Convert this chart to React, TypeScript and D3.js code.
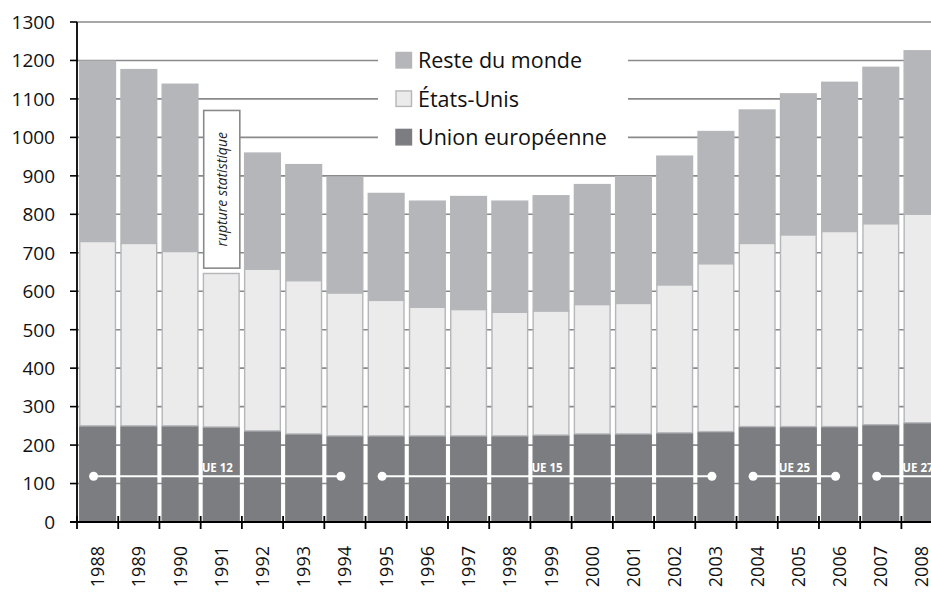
import React, { useRef, useEffect } from "react";
import * as d3 from "d3";

const years = [
  "1988", "1989", "1990", "1991", "1992", "1993", "1994", "1995", "1996", "1997", "1998",
  "1999", "2000", "2001", "2002", "2003", "2004", "2005", "2006", "2007", "2008",
];
const unionEuropeenne = [
  250, 250, 250, 247, 237, 229, 224, 224, 224, 224, 224, 226, 229, 229, 232, 235, 248, 248, 248, 253, 258,
];
const etatsUnis = [
  481, 476, 455, 401, 422, 400, 373, 354, 336, 330, 323, 324, 338, 341, 386, 438, 478, 500, 509, 524, 544,
];
const resteDuMonde = [
  469, 452, 435, 0, 302, 302, 301, 278, 276, 294, 289, 300, 312, 330, 335, 344, 347, 367, 388, 407, 425,
];
const yTicks = [0, 100, 200, 300, 400, 500, 600, 700, 800, 900, 1000, 1100, 1200, 1300];

// EU enlargement periods (start year, end year, label)
const periodLabels = ["UE 12", "UE 15", "UE 25", "UE 27"];
const periodStart = [1988, 1995, 2004, 2007];
const periodEnd = [1994, 2003, 2006, 2009];
const periodLevel = 119;

const seriesNames = ["Union européenne", "États-Unis", "Reste du monde"];
const seriesFill = ["#7c7d81", "#ebebeb", "#b5b6ba"];
const seriesStroke = ["#7c7d81", "#b5b6ba", "#b5b6ba"];

const W = 931;
const H = 592;
const FONT = "'Open Sans', 'Liberation Sans', sans-serif";

export default function App() {
  const svgRef = useRef<SVGSVGElement>(null);

  useEffect(() => {
    if (!svgRef.current) return;
    const svg = d3.select(svgRef.current);
    svg.selectAll("*").remove();

    const left = 77;
    const step = 41.22;
    const x = d3
      .scaleBand<string>()
      .domain(years)
      .range([left, left + step * years.length])
      .paddingInner(0.1)
      .paddingOuter(0.05);
    const y = d3.scaleLinear().domain([0, 1300]).range([522, 22]);

    // position of a year's band centre, also for years past the domain
    const centerOf = (yr: number) =>
      left + (yr - +years[0] + 0.5) * step;

    // gridlines
    svg
      .append("g")
      .selectAll("line")
      .data(yTicks.slice(1))
      .join("line")
      .attr("x1", left)
      .attr("x2", W)
      .attr("y1", (d) => y(d))
      .attr("y2", (d) => y(d))
      .attr("stroke", "#8a8a8c")
      .attr("stroke-width", 1.6);

    // stacked bars
    const rows = years.map((yr, i) => ({
      year: yr,
      ue: unionEuropeenne[i],
      us: etatsUnis[i],
      rdm: resteDuMonde[i],
    }));
    const stack = d3.stack<any>().keys(["ue", "us", "rdm"]);
    const layers = stack(rows);

    svg
      .append("g")
      .selectAll("g")
      .data(layers)
      .join("g")
      .attr("fill", (_, i) => seriesFill[i])
      .attr("stroke", (_, i) => seriesStroke[i])
      .attr("stroke-width", 1.4)
      .selectAll("rect")
      .data((d) => d.filter((s) => s[1] - s[0] > 0))
      .join("rect")
      .attr("x", (d) => x(d.data.year)! + 0.7)
      .attr("width", x.bandwidth() - 1.4)
      .attr("y", (d) => y(d[1]) + 0.7)
      .attr("height", (d) => Math.max(0, y(d[0]) - y(d[1]) - 0.7));

    // legend
    const leg = svg.append("g");
    leg
      .append("rect")
      .attr("x", 378)
      .attr("y", y(1250))
      .attr("width", 250)
      .attr("height", y(960) - y(1250))
      .attr("fill", "white");
    const legendOrder = [2, 1, 0];
    const legendValues = [1200, 1100, 1000];
    legendOrder.forEach((si, k) => {
      const cy = y(legendValues[k]);
      leg
        .append("rect")
        .attr("x", 396)
        .attr("y", cy - 8)
        .attr("width", 15.5)
        .attr("height", 15.5)
        .attr("fill", seriesFill[si])
        .attr("stroke", si === 1 ? "#b5b6ba" : seriesFill[si])
        .attr("stroke-width", 1.4);
      leg
        .append("text")
        .attr("x", 418)
        .attr("y", cy)
        .attr("dy", "0.36em")
        .attr("font-family", FONT)
        .attr("font-size", 21.5)
        .attr("fill", "#111")
        .text(seriesNames[si]);
    });

    // "rupture statistique" box over 1991
    const bx = x("1991")!;
    svg
      .append("rect")
      .attr("x", bx + 1)
      .attr("y", y(1070))
      .attr("width", x.bandwidth() - 1)
      .attr("height", y(660) - y(1070))
      .attr("fill", "white")
      .attr("stroke", "#8a8a8c")
      .attr("stroke-width", 1.6);
    svg
      .append("text")
      .attr(
        "transform",
        `translate(${bx + x.bandwidth() / 2 + 1},${(y(1070) + y(660)) / 2}) rotate(-90)`
      )
      .attr("text-anchor", "middle")
      .attr("dy", "0.35em")
      .attr("font-family", FONT)
      .attr("font-style", "italic")
      .attr("font-size", 14)
      .attr("fill", "#222")
      .text("rupture statistique");

    // EU enlargement annotations
    const ann = svg.append("g");
    periodLabels.forEach((lab, i) => {
      const x1 = centerOf(periodStart[i]) - 4;
      const x2 = centerOf(periodEnd[i]) - 4;
      const yy = y(periodLevel);
      ann
        .append("line")
        .attr("x1", x1)
        .attr("x2", x2)
        .attr("y1", yy)
        .attr("y2", yy)
        .attr("stroke", "white")
        .attr("stroke-width", 2);
      ann
        .append("circle")
        .attr("cx", x1)
        .attr("cy", yy)
        .attr("r", 4.5)
        .attr("fill", "white");
      ann
        .append("circle")
        .attr("cx", x2)
        .attr("cy", yy)
        .attr("r", 4.5)
        .attr("fill", "white");
      ann
        .append("text")
        .attr("x", (x1 + x2) / 2)
        .attr("y", yy - 4)
        .attr("text-anchor", "middle")
        .attr("font-family", FONT)
        .attr("font-weight", "bold")
        .attr("font-size", 11.5)
        .attr("fill", "white")
        .text(lab);
    });

    // y axis
    const yAxis = svg.append("g");
    yAxis
      .append("line")
      .attr("x1", left)
      .attr("x2", left)
      .attr("y1", y(1300))
      .attr("y2", y(0))
      .attr("stroke", "#000")
      .attr("stroke-width", 1.8);
    yAxis
      .selectAll("line.tk")
      .data(yTicks)
      .join("line")
      .attr("class", "tk")
      .attr("x1", left - 7)
      .attr("x2", left)
      .attr("y1", (d) => y(d))
      .attr("y2", (d) => y(d))
      .attr("stroke", "#000")
      .attr("stroke-width", 1.6);
    yAxis
      .selectAll("text")
      .data(yTicks)
      .join("text")
      .attr("x", 55)
      .attr("y", (d) => y(d))
      .attr("dy", "0.36em")
      .attr("text-anchor", "end")
      .attr("font-family", FONT)
      .attr("font-size", 19)
      .attr("fill", "#111")
      .text((d) => String(d));

    // x axis
    const xAxis = svg.append("g");
    xAxis
      .append("line")
      .attr("x1", left - 7)
      .attr("x2", W)
      .attr("y1", y(0))
      .attr("y2", y(0))
      .attr("stroke", "#000")
      .attr("stroke-width", 2);
    xAxis
      .selectAll("line.tk")
      .data(d3.range(years.length + 1))
      .join("line")
      .attr("class", "tk")
      .attr("x1", (i) => left + i * step)
      .attr("x2", (i) => left + i * step)
      .attr("y1", y(0) - 6)
      .attr("y2", y(0) + 7)
      .attr("stroke", "#000")
      .attr("stroke-width", 1.8);
    xAxis
      .selectAll("text")
      .data(years)
      .join("text")
      .attr(
        "transform",
        (d) => `translate(${x(d)! + x.bandwidth() / 2},${546}) rotate(-90)`
      )
      .attr("dy", "0.36em")
      .attr("text-anchor", "end")
      .attr("font-family", FONT)
      .attr("font-size", 18)
      .attr("fill", "#111")
      .text((d) => d);
  }, []);

  return (
    <svg
      ref={svgRef}
      width={W}
      height={H}
      style={{ position: "absolute", left: 0, top: 0, background: "white" }}
    ></svg>
  );
}
